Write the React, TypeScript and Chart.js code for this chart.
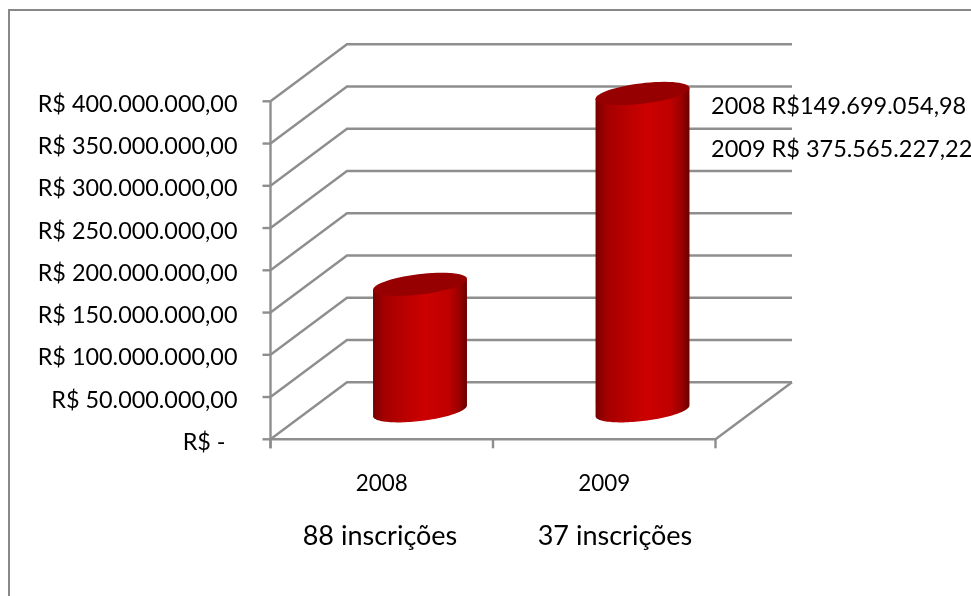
import React, { useEffect, useRef } from "react";
import { Chart, registerables } from "chart.js";

Chart.register(...registerables);

const categories = ["2008", "2009"];
const totals = [149699054.98, 375565227.22];
const enrolments = ["88 inscrições", "37 inscrições"];
const enrolmentCentres = [380, 615];
const totalNotes = ["2008 R$149.699.054,98", "2009 R$ 375.565.227,22"];
// The zero label keeps the accounting format's trailing blanks.
const yTicks = [
  "R$ -  ",
  "R$ 50.000.000,00",
  "R$ 100.000.000,00",
  "R$ 150.000.000,00",
  "R$ 200.000.000,00",
  "R$ 250.000.000,00",
  "R$ 300.000.000,00",
  "R$ 350.000.000,00",
  "R$ 400.000.000,00",
];

const FAMILY = "Lato, Carlito, sans-serif";
const GRID = "#8e8e8e";
const DEPTH = { x: 76.5, y: -57 };
// Half axes of the slanted cylinder cap.
const CAP_U = { x: 41.6, y: 0 };
const CAP_V = { x: 21.8, y: -11.6 };

const line = (ctx: CanvasRenderingContext2D, pts: number[][]) => {
  ctx.beginPath();
  pts.forEach(([x, y], i) => (i ? ctx.lineTo(x, y) : ctx.moveTo(x, y)));
  ctx.stroke();
};

const capPoint = (cx: number, cy: number, t: number) => [
  cx + CAP_U.x * Math.cos(t) + CAP_V.x * Math.sin(t),
  cy + CAP_U.y * Math.cos(t) + CAP_V.y * Math.sin(t),
];

const drawCylinder = (
  ctx: CanvasRenderingContext2D,
  cx: number,
  baseY: number,
  topY: number
) => {
  const t0 = Math.atan2(CAP_V.x, CAP_U.x);
  const halfW = Math.hypot(CAP_U.x, CAP_V.x);
  const grad = ctx.createLinearGradient(cx - halfW, 0, cx + halfW, 0);
  grad.addColorStop(0, "#780000");
  grad.addColorStop(0.12, "#a40000");
  grad.addColorStop(0.35, "#bb0000");
  grad.addColorStop(0.55, "#cc0000");
  grad.addColorStop(0.8, "#bf0000");
  grad.addColorStop(0.92, "#9a0000");
  grad.addColorStop(1, "#6a0000");

  ctx.beginPath();
  const tl = capPoint(cx, topY, t0 + Math.PI);
  ctx.moveTo(tl[0], tl[1]);
  const steps = 60;
  for (let i = 0; i <= steps; i++) {
    const [x, y] = capPoint(cx, baseY, t0 + Math.PI + (Math.PI * i) / steps);
    ctx.lineTo(x, y);
  }
  const tr = capPoint(cx, topY, t0);
  ctx.lineTo(tr[0], tr[1]);
  ctx.closePath();
  ctx.fillStyle = grad;
  ctx.fill();

  ctx.beginPath();
  for (let i = 0; i <= steps; i++) {
    const [x, y] = capPoint(cx, topY, (2 * Math.PI * i) / steps);
    if (i) ctx.lineTo(x, y);
    else ctx.moveTo(x, y);
  }
  ctx.closePath();
  ctx.fillStyle = "#960000";
  ctx.fill();
};

const wallsAndCylinders = {
  id: "wallsAndCylinders",
  beforeDatasetsDraw(chart: any) {
    const { ctx, scales } = chart;
    const yScale = scales.y;
    const xScale = scales.x;
    const left = xScale.left;
    const right = xScale.right;
    const bottom = yScale.getPixelForValue(0);
    ctx.save();
    // Outer frame, open on the right and bottom edges of the canvas.
    ctx.strokeStyle = "#888888";
    ctx.lineWidth = 2;
    line(ctx, [
      [9, 596],
      [9, 10],
      [971, 10],
    ]);
    ctx.strokeStyle = GRID;
    ctx.lineWidth = 2.4;
    yScale.ticks.forEach((tick: any) => {
      const y = yScale.getPixelForValue(tick.value);
      line(ctx, [
        [left, y],
        [left + DEPTH.x, y + DEPTH.y],
        [right + DEPTH.x, y + DEPTH.y],
      ]);
      line(ctx, [
        [left - 8, y],
        [left, y],
      ]);
    });
    // Floor edges, axis line and category separators.
    line(ctx, [
      [left, bottom],
      [right, bottom],
      [right + DEPTH.x, bottom + DEPTH.y],
    ]);
    line(ctx, [
      [left, yScale.getPixelForValue(400000000)],
      [left, bottom + 9],
    ]);
    [left, (left + right) / 2, right].forEach((x) =>
      line(ctx, [
        [x, bottom],
        [x, bottom + 9],
      ])
    );
    ctx.restore();
  },
  afterDatasetsDraw(chart: any) {
    const { ctx, scales } = chart;
    const bars = chart.getDatasetMeta(0).data;
    ctx.save();
    bars.forEach((bar: any, i: number) => {
      const base = scales.y.getPixelForValue(0) + DEPTH.y / 2;
      const top = scales.y.getPixelForValue(totals[i]) + DEPTH.y / 2;
      drawCylinder(ctx, bar.x + DEPTH.x / 2, base, top);
    });
    ctx.restore();
  },
  afterDraw(chart: any) {
    const { ctx } = chart;
    ctx.save();
    ctx.fillStyle = "#000000";
    ctx.textBaseline = "middle";
    ctx.textAlign = "center";
    ctx.font = `27px ${FAMILY}`;
    enrolments.forEach((label, i) => ctx.fillText(label, enrolmentCentres[i], 536));
    ctx.textAlign = "left";
    ctx.font = `23.5px ${FAMILY}`;
    totalNotes.forEach((note, i) => ctx.fillText(note, 711, 106 + i * 43));
    ctx.restore();
  },
};

export default function App() {
  const ref = useRef<HTMLCanvasElement>(null);
  useEffect(() => {
    const chart = new Chart(ref.current!, {
      type: "bar",
      data: {
        labels: categories,
        datasets: [
          {
            data: totals,
            backgroundColor: "rgba(0,0,0,0)",
            borderWidth: 0,
          },
        ],
      },
      options: {
        animation: false,
        responsive: false,
        events: [],
        layout: { padding: { left: 0, right: 255.5, top: 101.3, bottom: 0 } },
        plugins: { legend: { display: false }, tooltip: { enabled: false } },
        scales: {
          x: {
            grid: { display: false },
            border: { display: false },
            ticks: {
              color: "#000",
              font: { family: FAMILY, size: 22.4 },
              padding: 23.5,
              maxRotation: 0,
            },
            afterFit(scale: any) {
              scale.height = 156.7;
            },
          },
          y: {
            min: 0,
            max: 400000000,
            grid: { display: false },
            border: { display: false },
            afterFit(scale: any) {
              scale.width = 270.5;
            },
            ticks: {
              stepSize: 50000000,
              color: "#000",
              font: { family: FAMILY, size: 23.4 },
              padding: 25,
              labelOffset: 3,
              callback: (_v: any, i: number) => yTicks[i],
            },
          },
        },
      },
      plugins: [wallsAndCylinders],
    });
    return () => chart.destroy();
  }, []);
  return (
    <canvas
      ref={ref}
      width={971}
      height={596}
      style={{ display: "block", position: "absolute", left: 0, top: 0 }}
    />
  );
}
